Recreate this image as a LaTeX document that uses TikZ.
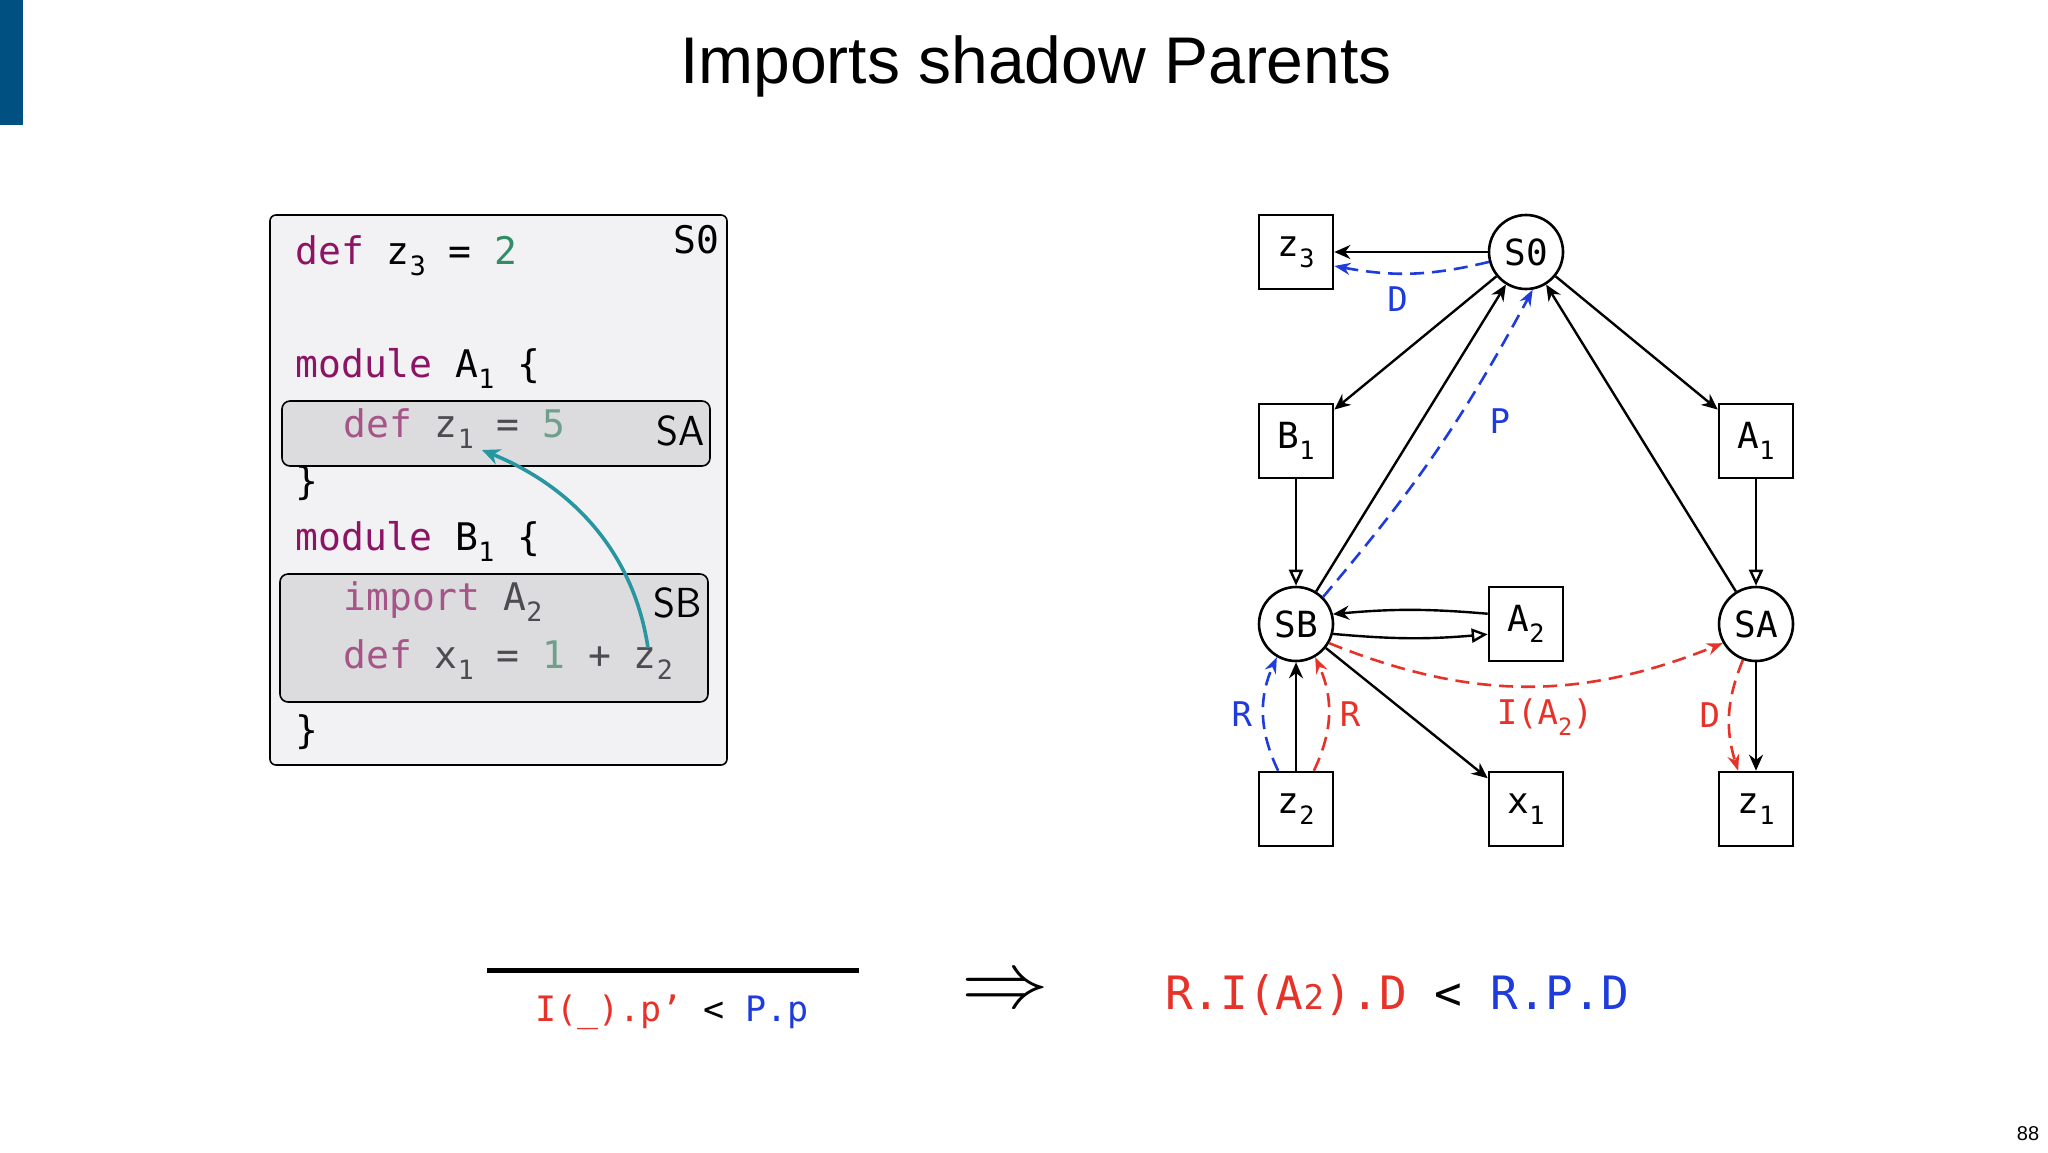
\documentclass[tikz,border=0pt]{standalone}
\usepackage{fontspec}
\setmainfont{Liberation Sans}
\setmonofont{DejaVu Sans Mono}
\usetikzlibrary{arrows.meta,positioning}
\definecolor{kw}{RGB}{140,20,100}
\definecolor{kwf}{RGB}{165,85,135}
\definecolor{num}{RGB}{50,140,100}
\definecolor{numf}{RGB}{110,160,140}
\definecolor{txf}{RGB}{75,75,80}
\definecolor{teal}{RGB}{40,150,160}
\definecolor{bl}{RGB}{30,60,220}
\definecolor{rd}{RGB}{230,50,40}
\definecolor{barblue}{RGB}{0,80,130}
\newcommand{\lsub}[1]{\raisebox{-0.3em}{\fontsize{0.7em}{0.7em}\selectfont #1}}
\tikzset{
 code/.style={anchor=base west,inner sep=0pt,font=\ttfamily\fontsize{19pt}{19pt}\selectfont},
 sq/.style={draw,line width=1.3pt,minimum width=37pt,minimum height=37pt,inner sep=0pt,font=\ttfamily\fontsize{18pt}{18pt}\selectfont},
 ci/.style={draw,circle,line width=1.3pt,minimum size=37pt,inner sep=0pt,font=\ttfamily\fontsize{18pt}{18pt}\selectfont},
 ed/.style={line width=1.2pt,-{Stealth[length=8pt,width=7pt]}},
 op/.style={line width=1.2pt,-{Triangle[open,length=8pt,width=7pt]}},
 bd/.style={line width=1.3pt,dashed,dash pattern=on 7pt off 4pt,bl,-{Stealth[length=8pt,width=6pt]}},
 rdd/.style={line width=1.3pt,dashed,dash pattern=on 7pt off 4pt,rd,-{Stealth[length=8pt,width=6pt]}},
 lab/.style={font=\ttfamily\fontsize{17pt}{17pt}\selectfont,inner sep=0pt},
}
\begin{document}
\begin{tikzpicture}[x=0.5pt,y=-0.5pt]
\useasboundingbox[fill=white] (0,0) rectangle (2048,1152);
\fill[barblue] (0,0) rectangle (23,125);
\node[font=\fontsize{33pt}{33pt}\selectfont] (title) at (1036,66) {Imports shadow Parents};
\node[font=\fontsize{10pt}{10pt}\selectfont] (pg) at (2028,1134) {88};
% code box
\draw[fill={rgb,255:red,242;green,241;blue,243},line width=0.8pt,rounded corners=3pt] (270,215) rectangle (727,765);
\draw[fill={rgb,255:red,220;green,220;blue,222},line width=0.8pt,rounded corners=4pt] (282,401) rectangle (710,466);
\draw[fill={rgb,255:red,220;green,220;blue,222},line width=0.8pt,rounded corners=4pt] (280,574) rectangle (708,702);
\node[code] (l1) at (295,264) {\textcolor{kw}{def} z\lsub{3} = \textcolor{num}{2}};
\node[code,anchor=base east] (s0l) at (720,253) {S0};
\node[code] (l2) at (295,377) {\textcolor{kw}{module} A\lsub{1} \{};
\node[code] (l3) at (343,437) {\textcolor{kwf}{def} \textcolor{txf}{z\lsub{1} =} \textcolor{numf}{5}};
\node[code,anchor=base east,font=\fontsize{21pt}{21pt}\selectfont\sffamily] (sal) at (705,445) {SA};
\node[code] (l4) at (295,494) {\}};
\node[code] (l5) at (295,550) {\textcolor{kw}{module} B\lsub{1} \{};
\node[code] (l6) at (343,610) {\textcolor{kwf}{import} \textcolor{txf}{A\lsub{2}}};
\node[code,anchor=base east,font=\fontsize{21pt}{21pt}\selectfont\sffamily] (sbl) at (702,617) {SB};
\node[code] (l7) at (343,668) {\textcolor{kwf}{def} \textcolor{txf}{x\lsub{1} =} \textcolor{numf}{1} \textcolor{txf}{+ z\lsub{2}}};
\node[code] (l8) at (295,743) {\}};
\coordinate (tfrom) at (648,648);
\coordinate (tto) at (482,450);
\draw[teal,line width=1.8pt,-{Stealth[length=9pt,width=8pt]}] (tfrom) .. controls (635,560) and (580,490) .. (tto);
% graph
\node[sq] (z3) at (1296,252) {z\lsub{3}};
\node[ci] (S0) at (1526,252) {S0};
\node[sq] (B1) at (1296,441) {B\lsub{1}};
\node[sq] (A1) at (1756,441) {A\lsub{1}};
\node[ci] (SB) at (1296,624) {SB};
\node[sq] (A2) at (1526,624) {A\lsub{2}};
\node[ci] (SA) at (1756,624) {SA};
\node[sq] (z2) at (1296,809) {z\lsub{2}};
\node[sq] (x1) at (1526,809) {x\lsub{1}};
\node[sq] (z1) at (1756,809) {z\lsub{1}};
\draw[ed] (S0) -- (z3);
\draw[bd] (S0.195) to[bend left=12] node[lab,below=6pt,pos=0.6] {D} (z3.-20);
\draw[ed] (S0) -- (B1);
\draw[ed] (SB) -- (S0);
\draw[bd] (SB.45) to[bend right=6] node[lab,right=16pt,pos=0.6] {P} (S0.-80);
\draw[ed] (S0) -- (A1);
\draw[ed] (SA) -- (S0);
\draw[op] (B1) -- (SB);
\draw[op] (A1) -- (SA);
\draw[ed] (A2.165) to[bend right=5] (SB.15);
\draw[op] (SB.-15) to[bend right=5] (A2.-165);
\draw[ed] (SB) -- (x1);
\draw[ed] (z2) -- (SB);
\draw[bd] (z2.115) to[bend left=25] node[lab,left=5pt] {R} (SB.-120);
\draw[rdd] (z2.65) to[bend right=25] node[lab,right=5pt,text=rd] {R} (SB.-60);
\draw[rdd] (SB.-30) to[bend right=22] node[lab,below=6pt,text=rd,pos=0.55] {I(A\lsub{2})} (SA.-150);
\draw[ed] (SA) -- (z1);
\draw[rdd] (SA.-110) to[bend right=20] node[lab,left=4pt,text=rd] {D} (z1.115);
% bottom
\coordinate (la) at (487,970);
\coordinate (lb) at (859,970);
\draw[line width=2.5pt] (la) -- (lb);
\node[font=\ttfamily\fontsize{17.5pt}{17.5pt}\selectfont] (prem) at (672,1012) {\textcolor{rd}{I(\_).p’} < \textcolor{bl}{P.p}};
\node[font=\fontsize{40pt}{40pt}\selectfont,scale=1.6,xscale=1.1] (impl) at (1005,993) {$\Rightarrow$};
\node[font=\ttfamily\fontsize{23pt}{23pt}\selectfont] (conc) at (1397,995) {\textcolor{rd}{R.I(A{\fontsize{17pt}{17pt}\selectfont 2}).D} < \textcolor{bl}{R.P.D}};
\end{tikzpicture}
\end{document}
